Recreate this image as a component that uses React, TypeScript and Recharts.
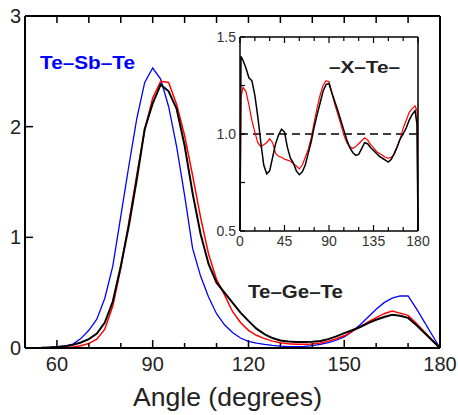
import React from 'react';
import { LineChart, Line, XAxis, YAxis, ReferenceLine } from 'recharts';

const FONT = '"Liberation Sans", Arial, Helvetica, sans-serif';

// Bond-angle distributions (degrees), sampled every 2.5°
const angle = [
  50, 52.5, 55, 57.5, 60, 62.5, 65, 67.5, 70, 72.5, 75, 77.5, 80, 82.5, 85, 87.5, 90, 92.5, 95, 97.5,
  100, 102.5, 105, 107.5, 110, 112.5, 115, 117.5, 120, 122.5, 125, 127.5, 130, 132.5, 135, 137.5, 140,
  142.5, 145, 147.5, 150, 152.5, 155, 157.5, 160, 162.5, 165, 167.5, 170, 172.5, 175, 177.5, 180,
];

// Te–Sb–Te (blue)
const teSbTe = [
  0, 0.001, 0.002, 0.005, 0.01, 0.018, 0.035, 0.085, 0.16, 0.26, 0.45, 0.74, 1.19, 1.64, 2.07, 2.4, 2.53,
  2.43, 2.18, 1.82, 1.38, 0.9, 0.65, 0.46, 0.31, 0.21, 0.14, 0.09, 0.06, 0.045, 0.033, 0.024, 0.017,
  0.013, 0.012, 0.015, 0.022, 0.032, 0.048, 0.07, 0.1, 0.15, 0.21, 0.28, 0.35, 0.41, 0.45, 0.47, 0.47,
  0.36, 0.24, 0.12, 0,
];

// Te–Ge–Te, first model (black)
const teGeTeA = [
  0, 0.001, 0.002, 0.005, 0.009, 0.015, 0.028, 0.05, 0.08, 0.13, 0.23, 0.42, 0.74, 1.1, 1.52, 1.98, 2.21,
  2.38, 2.32, 2.16, 1.83, 1.4, 1.03, 0.76, 0.59, 0.5, 0.41, 0.32, 0.245, 0.175, 0.125, 0.09, 0.068,
  0.058, 0.055, 0.055, 0.057, 0.064, 0.08, 0.105, 0.135, 0.16, 0.19, 0.225, 0.255, 0.28, 0.3, 0.292,
  0.272, 0.21, 0.14, 0.07, 0,
];

// Te–Ge–Te, second model (red)
const teGeTeB = [
  0, 0, 0.001, 0.002, 0.004, 0.006, 0.01, 0.02, 0.04, 0.08, 0.17, 0.38, 0.72, 1.13, 1.56, 1.97, 2.26,
  2.41, 2.4, 2.2, 1.92, 1.56, 1.18, 0.85, 0.62, 0.48, 0.33, 0.23, 0.16, 0.115, 0.085, 0.062, 0.048,
  0.038, 0.034, 0.034, 0.037, 0.045, 0.062, 0.083, 0.11, 0.15, 0.19, 0.235, 0.275, 0.31, 0.335, 0.315,
  0.295, 0.225, 0.15, 0.075, 0,
];

// –X–Te– normalised distributions over 0–180°
const insetAngle = [
  0, 1, 3, 6, 9, 12, 15, 18, 21, 24, 27, 30, 33, 36, 39, 42, 45, 48, 51, 54, 57, 60, 63, 66, 69, 72, 75,
  78, 81, 84, 87, 90, 93, 96, 99, 102, 105, 108, 111, 114, 117, 120, 123, 126, 129, 132, 135, 138, 141,
  144, 147, 150, 153, 156, 159, 162, 165, 168, 171, 174, 177, 179, 180,
];

const xTeA = [
  0.5, 1.4, 1.38, 1.34, 1.29, 1.275, 1.2, 1.09, 0.96, 0.84, 0.795, 0.81, 0.88, 0.95, 0.995, 1.025, 1.01,
  0.93, 0.875, 0.85, 0.81, 0.79, 0.805, 0.84, 0.9, 0.96, 1.035, 1.1, 1.16, 1.22, 1.255, 1.26, 1.21, 1.165,
  1.12, 1.07, 1.02, 0.97, 0.93, 0.905, 0.89, 0.895, 0.925, 0.955, 0.95, 0.93, 0.915, 0.9, 0.885, 0.875,
  0.865, 0.855, 0.87, 0.9, 0.935, 0.975, 1.0, 1.03, 1.07, 1.1, 1.12, 1.05, 0.5,
];

const xTeB = [
  0.5, 1.19, 1.24, 1.22, 1.15, 1.07, 1.01, 0.955, 0.935, 0.945, 0.955, 0.975, 0.955, 0.9, 0.885, 0.88,
  0.87, 0.865, 0.86, 0.845, 0.835, 0.82, 0.84, 0.88, 0.92, 0.98, 1.06, 1.135, 1.2, 1.25, 1.275, 1.27,
  1.21, 1.15, 1.1, 1.05, 0.995, 0.955, 0.935, 0.925, 0.935, 0.95, 0.965, 0.98, 0.97, 0.945, 0.93, 0.91,
  0.9, 0.89, 0.88, 0.875, 0.88, 0.895, 0.935, 0.975, 1.03, 1.07, 1.11, 1.13, 1.145, 1.12, 0.5,
];

const mainXTicks = [60, 70, 80, 90, 100, 110, 120, 130, 140, 150, 160, 170, 180];
const mainXLabels = [60, 90, 120, 150, 180];
const mainYTicks = [0, 1, 2, 3];
const insetXTicks = [0, 15, 30, 45, 60, 75, 90, 105, 120, 135, 150, 165, 180];
const insetXLabels = [0, 45, 90, 135, 180];
const insetYTicks = [0.5, 0.75, 1, 1.25, 1.5];
const insetYLabels = [0.5, 1, 1.5];

const mainData = angle.map((a, i) => ({ angle: a, sb: teSbTe[i], geA: teGeTeA[i], geB: teGeTeB[i] }));
const insetData = insetAngle.map((a, i) => ({ angle: a, a1: xTeA[i], b1: xTeB[i] }));

const axisLine = { stroke: '#000', strokeWidth: 2 };
const insetAxisLine = { stroke: '#000', strokeWidth: 1.5 };

const MainBottomTick = (p: any) => {
  const v = p.payload.value;
  const major = mainXLabels.includes(v);
  return (
    <g>
      <line x1={p.x} y1={p.y} x2={p.x} y2={p.y - (major ? 8 : 5)} stroke="#000" strokeWidth={1.5} />
      {major && (
        <text x={p.x} y={p.y + 23} textAnchor="middle" fontSize={20} fontFamily={FONT} fill="#222">
          {v}
        </text>
      )}
    </g>
  );
};

const MainTopTick = (p: any) => (
  <line x1={p.x} y1={p.y} x2={p.x} y2={p.y + 7} stroke="#000" strokeWidth={1.5} />
);

const MainLeftTick = (p: any) => (
  <g>
    <line x1={p.x} y1={p.y} x2={p.x + 8} y2={p.y} stroke="#000" strokeWidth={1.5} />
    <text x={p.x - 4} y={p.y + 7} textAnchor="end" fontSize={20} fontFamily={FONT} fill="#222">
      {p.payload.value}
    </text>
  </g>
);

const MainRightTick = (p: any) => (
  <line x1={p.x} y1={p.y} x2={p.x - 8} y2={p.y} stroke="#000" strokeWidth={1.5} />
);

const InsetBottomTick = (p: any) => {
  const v = p.payload.value;
  const major = insetXLabels.includes(v);
  return (
    <g>
      <line x1={p.x} y1={p.y} x2={p.x} y2={p.y - (major ? 6 : 4)} stroke="#000" strokeWidth={1.2} />
      {major && (
        <text x={p.x} y={p.y + 15} textAnchor="middle" fontSize={14} fontFamily={FONT} fill="#333">
          {v}
        </text>
      )}
    </g>
  );
};

const InsetTopTick = (p: any) => {
  const major = insetXLabels.includes(p.payload.value);
  return <line x1={p.x} y1={p.y} x2={p.x} y2={p.y + (major ? 6 : 4)} stroke="#000" strokeWidth={1.2} />;
};

const InsetLeftTick = (p: any) => {
  const v = p.payload.value;
  return (
    <g>
      <line x1={p.x} y1={p.y} x2={p.x + 5} y2={p.y} stroke="#000" strokeWidth={1.2} />
      {insetYLabels.includes(v) && (
        <text x={p.x - 4} y={p.y + 5} textAnchor="end" fontSize={14} fontFamily={FONT} fill="#333">
          {v.toFixed(1)}
        </text>
      )}
    </g>
  );
};

const InsetRightTick = (p: any) => (
  <line x1={p.x} y1={p.y} x2={p.x - 5} y2={p.y} stroke="#000" strokeWidth={1.2} />
);

export default function App() {
  return (
    <div style={{ position: 'absolute', left: 0, top: 0, width: 458, height: 415, background: '#fff' }}>
      <div style={{ position: 'absolute', left: 0, top: 0 }}>
        <LineChart width={458} height={415} data={mainData} margin={{ top: 15, right: 17, bottom: 0, left: 0 }}>
          <XAxis
            xAxisId="deg"
            dataKey="angle"
            type="number"
            domain={[50, 180]}
            ticks={mainXTicks}
            interval={0}
            height={67}
            axisLine={axisLine}
            tickLine={false}
            tickSize={0}
            tickMargin={0}
            tick={MainBottomTick}
          />
          <XAxis
            xAxisId="degTop"
            orientation="top"
            dataKey="angle"
            type="number"
            domain={[50, 180]}
            ticks={mainXTicks}
            interval={0}
            height={1}
            axisLine={axisLine}
            tickLine={false}
            tickSize={0}
            tickMargin={0}
            tick={MainTopTick}
          />
          <YAxis
            yAxisId="v"
            type="number"
            domain={[0, 3]}
            ticks={mainYTicks}
            interval={0}
            width={25}
            axisLine={axisLine}
            tickLine={false}
            tickSize={0}
            tickMargin={0}
            tick={MainLeftTick}
          />
          <YAxis
            yAxisId="vRight"
            orientation="right"
            type="number"
            domain={[0, 3]}
            ticks={[1, 2]}
            interval={0}
            width={1}
            axisLine={axisLine}
            tickLine={false}
            tickSize={0}
            tickMargin={0}
            tick={MainRightTick}
          />
          <Line xAxisId="deg" yAxisId="v" type="linear" dataKey="sb" stroke="#0000ff" strokeWidth={1.3} dot={false} isAnimationActive={false} />
          <Line xAxisId="deg" yAxisId="v" type="linear" dataKey="geB" stroke="#ff0000" strokeWidth={1.5} dot={false} isAnimationActive={false} />
          <Line xAxisId="deg" yAxisId="v" type="linear" dataKey="geA" stroke="#000000" strokeWidth={2} dot={false} isAnimationActive={false} />
          <text x={40} y={69} fontSize={18} fontWeight="bold" fontFamily={FONT} fill="#0000ff" textLength={95} lengthAdjust="spacingAndGlyphs">
            Te–Sb–Te
          </text>
          <text x={248} y={298} fontSize={18} fontWeight="bold" fontFamily={FONT} fill="#222" textLength={95} lengthAdjust="spacingAndGlyphs">
            Te–Ge–Te
          </text>
          <text x={133} y={406} fontSize={25} fontFamily={FONT} fill="#222" textLength={189} lengthAdjust="spacingAndGlyphs">
            Angle (degrees)
          </text>
        </LineChart>
      </div>
      <div style={{ position: 'absolute', left: 200, top: 20 }}>
        <LineChart width={240} height={230} data={insetData} margin={{ top: 16, right: 21, bottom: 0, left: 0 }}>
          <XAxis
            xAxisId="ia"
            dataKey="angle"
            type="number"
            domain={[0, 180]}
            ticks={insetXTicks}
            interval={0}
            height={19}
            axisLine={insetAxisLine}
            tickLine={false}
            tickSize={0}
            tickMargin={0}
            tick={InsetBottomTick}
          />
          <XAxis
            xAxisId="iaTop"
            orientation="top"
            dataKey="angle"
            type="number"
            domain={[0, 180]}
            ticks={insetXTicks}
            interval={0}
            height={1}
            axisLine={insetAxisLine}
            tickLine={false}
            tickSize={0}
            tickMargin={0}
            tick={InsetTopTick}
          />
          <YAxis
            yAxisId="iv"
            type="number"
            domain={[0.5, 1.5]}
            ticks={insetYTicks}
            interval={0}
            width={40}
            allowDataOverflow
            axisLine={insetAxisLine}
            tickLine={false}
            tickSize={0}
            tickMargin={0}
            tick={InsetLeftTick}
          />
          <YAxis
            yAxisId="ivRight"
            orientation="right"
            type="number"
            domain={[0.5, 1.5]}
            ticks={insetYTicks}
            interval={0}
            width={1}
            axisLine={insetAxisLine}
            tickLine={false}
            tickSize={0}
            tickMargin={0}
            tick={InsetRightTick}
          />
          <ReferenceLine xAxisId="ia" yAxisId="iv" y={1} stroke="#000" strokeWidth={1.3} strokeDasharray="8 5" />
          <Line xAxisId="ia" yAxisId="iv" type="linear" dataKey="b1" stroke="#ff0000" strokeWidth={1.2} dot={false} isAnimationActive={false} />
          <Line xAxisId="ia" yAxisId="iv" type="linear" dataKey="a1" stroke="#000000" strokeWidth={1.5} dot={false} isAnimationActive={false} />
          <text x={129} y={53} fontSize={16} fontWeight="bold" fontFamily={FONT} fill="#222" textLength={71} lengthAdjust="spacingAndGlyphs">
            –X–Te–
          </text>
        </LineChart>
      </div>
    </div>
  );
}
